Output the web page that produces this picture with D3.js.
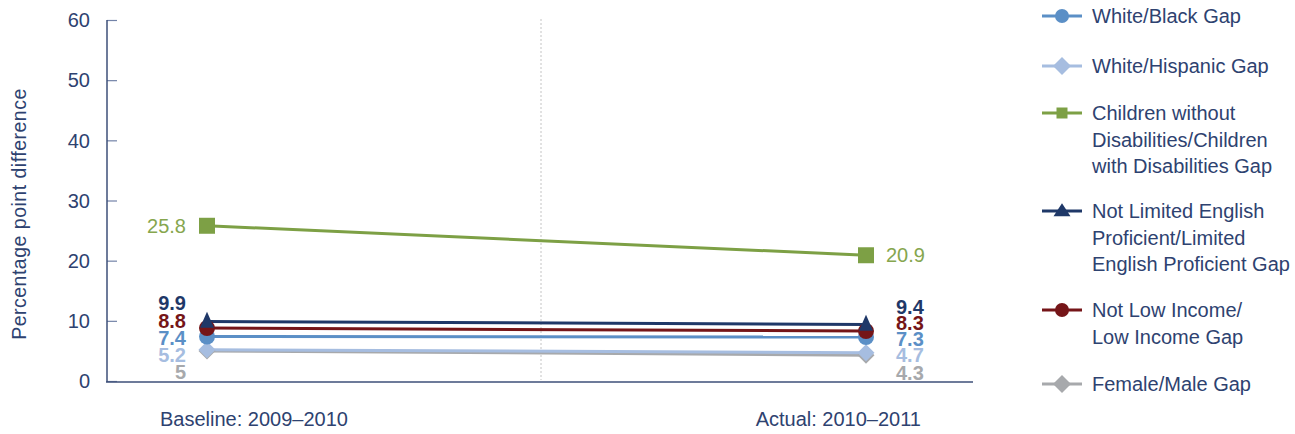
<!DOCTYPE html>
<html><head><meta charset="utf-8">
<script src="https://cdn.jsdelivr.net/npm/d3@7"></script>
<style>
body{margin:0;background:#fff;}
text{font-family:"Liberation Sans",Arial,sans-serif;}
</style></head><body>
<svg id="c" width="1295" height="434"></svg>
<script>
const categories = ["Baseline: 2009–2010", "Actual: 2010–2011"];
const seriesNames = ["White/Black Gap","White/Hispanic Gap","Children without Disabilities/Children with Disabilities Gap","Not Limited English Proficient/Limited English Proficient Gap","Not Low Income/ Low Income Gap","Female/Male Gap"];
const whiteBlack = [7.4, 7.3];
const whiteHispanic = [5.2, 4.7];
const disabilities = [25.8, 20.9];
const englishProf = [9.9, 9.4];
const lowIncome = [8.8, 8.3];
const femaleMale = [5.0, 4.3];
const yTicks = [0,10,20,30,40,50,60];
const legendLines = [["White/Black Gap"],["White/Hispanic Gap"],["Children without","Disabilities/Children","with Disabilities Gap"],["Not Limited English","Proficient/Limited","English Proficient Gap"],["Not Low Income/","Low Income Gap"],["Female/Male Gap"]];

const series = [
  {name:seriesNames[5], values:femaleMale, color:"#a7a9ac", label:"#a7a9ac", sym:"diamond"},
  {name:seriesNames[1], values:whiteHispanic, color:"#a6bde0", label:"#a6bde0", sym:"diamond"},
  {name:seriesNames[0], values:whiteBlack, color:"#5b8fc6", label:"#5b8fc6", sym:"circle"},
  {name:seriesNames[4], values:lowIncome, color:"#751518", label:"#751518", sym:"circle"},
  {name:seriesNames[3], values:englishProf, color:"#1f3868", label:"#1f3868", sym:"triangle"},
  {name:seriesNames[2], values:disabilities, color:"#7da045", label:"#86a64e", sym:"square"}
];
const legendOrder = [2,1,5,4,3,0];

const svg = d3.select("#c");
const x = d3.scalePoint().domain(categories).range([207,866]);
const y = d3.scaleLinear().domain([0,60]).range([381,20]);
const axisColor = "#3d4f78", textColor = "#2e4270";

svg.append("line").attr("x1",541).attr("x2",541).attr("y1",19).attr("y2",380)
  .attr("stroke","#c4c4c4").attr("stroke-width",1).attr("stroke-dasharray","2,2");

const yAxis = d3.axisRight(y).tickValues(yTicks).tickSize(10).tickFormat("");
const ga = svg.append("g").attr("transform","translate(107,0)").call(yAxis);
ga.select(".domain").remove();
ga.selectAll("line").attr("stroke","#7383a8").attr("stroke-width",1.2);
svg.append("line").attr("x1",107).attr("x2",107).attr("y1",y(60)).attr("y2",y(0)+1).attr("stroke",axisColor).attr("stroke-width",1.5);
svg.append("line").attr("x1",106).attr("x2",973).attr("y1",y(0)+1).attr("y2",y(0)+1).attr("stroke",axisColor).attr("stroke-width",1.5);
svg.selectAll(".yt").data(yTicks).enter().append("text")
  .attr("x",90).attr("y",d=>y(d)).attr("dy","0.36em").attr("text-anchor","end")
  .attr("fill",textColor).attr("font-size",20).text(d=>d);
svg.append("text").attr("transform","translate(26,214) rotate(-90)").attr("text-anchor","middle")
  .attr("fill",textColor).attr("font-size",19.5).attr("letter-spacing","0.5px").text("Percentage point difference");

svg.append("text").attr("x",x(categories[0])-47).attr("y",426).attr("fill",textColor).attr("font-size",20).text(categories[0]);
svg.append("text").attr("x",x(categories[1])+55).attr("y",426).attr("text-anchor","end").attr("fill",textColor).attr("font-size",20).text(categories[1]);

function diamondPath(r){return `M0,${-r}L${r},0L0,${r}L${-r},0Z`;}
function trianglePath(w,h){return `M0,${-h*0.6}L${w/2},${h*0.4}L${-w/2},${h*0.4}Z`;}
const plotSym = {
  circle: ()=>d3.symbol(d3.symbolCircle, Math.PI*64)(),
  diamond: ()=>diamondPath(8.5),
  triangle: ()=>trianglePath(14,16),
  square: ()=>d3.symbol(d3.symbolSquare, 256)()
};
const legSym = {
  circle: ()=>d3.symbol(d3.symbolCircle, Math.PI*49)(),
  diamond: ()=>diamondPath(9),
  triangle: ()=>trianglePath(17,13),
  square: ()=>d3.symbol(d3.symbolSquare, 121)()
};
const line = d3.line().x((d,i)=>x(categories[i])).y(d=>y(d));
series.forEach(s=>{
  svg.append("path").datum(s.values).attr("d",line).attr("fill","none").attr("stroke",s.color).attr("stroke-width",3);
});
series.forEach(s=>{
  s.values.forEach((v,i)=>{
    svg.append("path").attr("d",plotSym[s.sym]()).attr("transform",`translate(${x(categories[i])},${y(v)})`).attr("fill",s.color);
  });
});

const leftLabelY = {"#1f3868":303,"#751518":321,"#5b8fc6":338,"#a6bde0":355,"#a7a9ac":372};
const rightLabelY = {"#1f3868":307,"#751518":323,"#5b8fc6":339,"#a6bde0":355,"#a7a9ac":373};
series.forEach(s=>{
  const big = s.sym==="square";
  const ly = big ? y(s.values[0]) : leftLabelY[s.color];
  const ry = big ? y(s.values[1]) : rightLabelY[s.color];
  svg.append("text").attr("x",186).attr("y",ly).attr("dy","0.36em").attr("text-anchor","end")
    .attr("fill",s.label).attr("font-size",20).attr("font-weight",big?"normal":"bold").text(String(s.values[0]));
  svg.append("text").attr("x",big?886:896).attr("y",ry).attr("dy","0.36em")
    .attr("fill",s.label).attr("font-size",20).attr("font-weight",big?"normal":"bold").text(String(s.values[1]));
});

const legY = [16,66,113,211,310,384];
legendOrder.forEach((si,k)=>{
  const s = series[si];
  const yy = legY[k];
  svg.append("line").attr("x1",1042).attr("x2",1082).attr("y1",yy).attr("y2",yy).attr("stroke",s.color).attr("stroke-width",3);
  svg.append("path").attr("d",legSym[s.sym]()).attr("transform",`translate(1062,${yy})`).attr("fill",s.color);
  const t = svg.append("text").attr("x",1092).attr("y",yy).attr("fill",textColor).attr("font-size",20);
  legendLines[k].forEach((ln,j)=>{
    t.append("tspan").attr("x",1092).attr("dy", j===0?"0.36em":"26.5px").text(ln);
  });
});
</script></body></html>
